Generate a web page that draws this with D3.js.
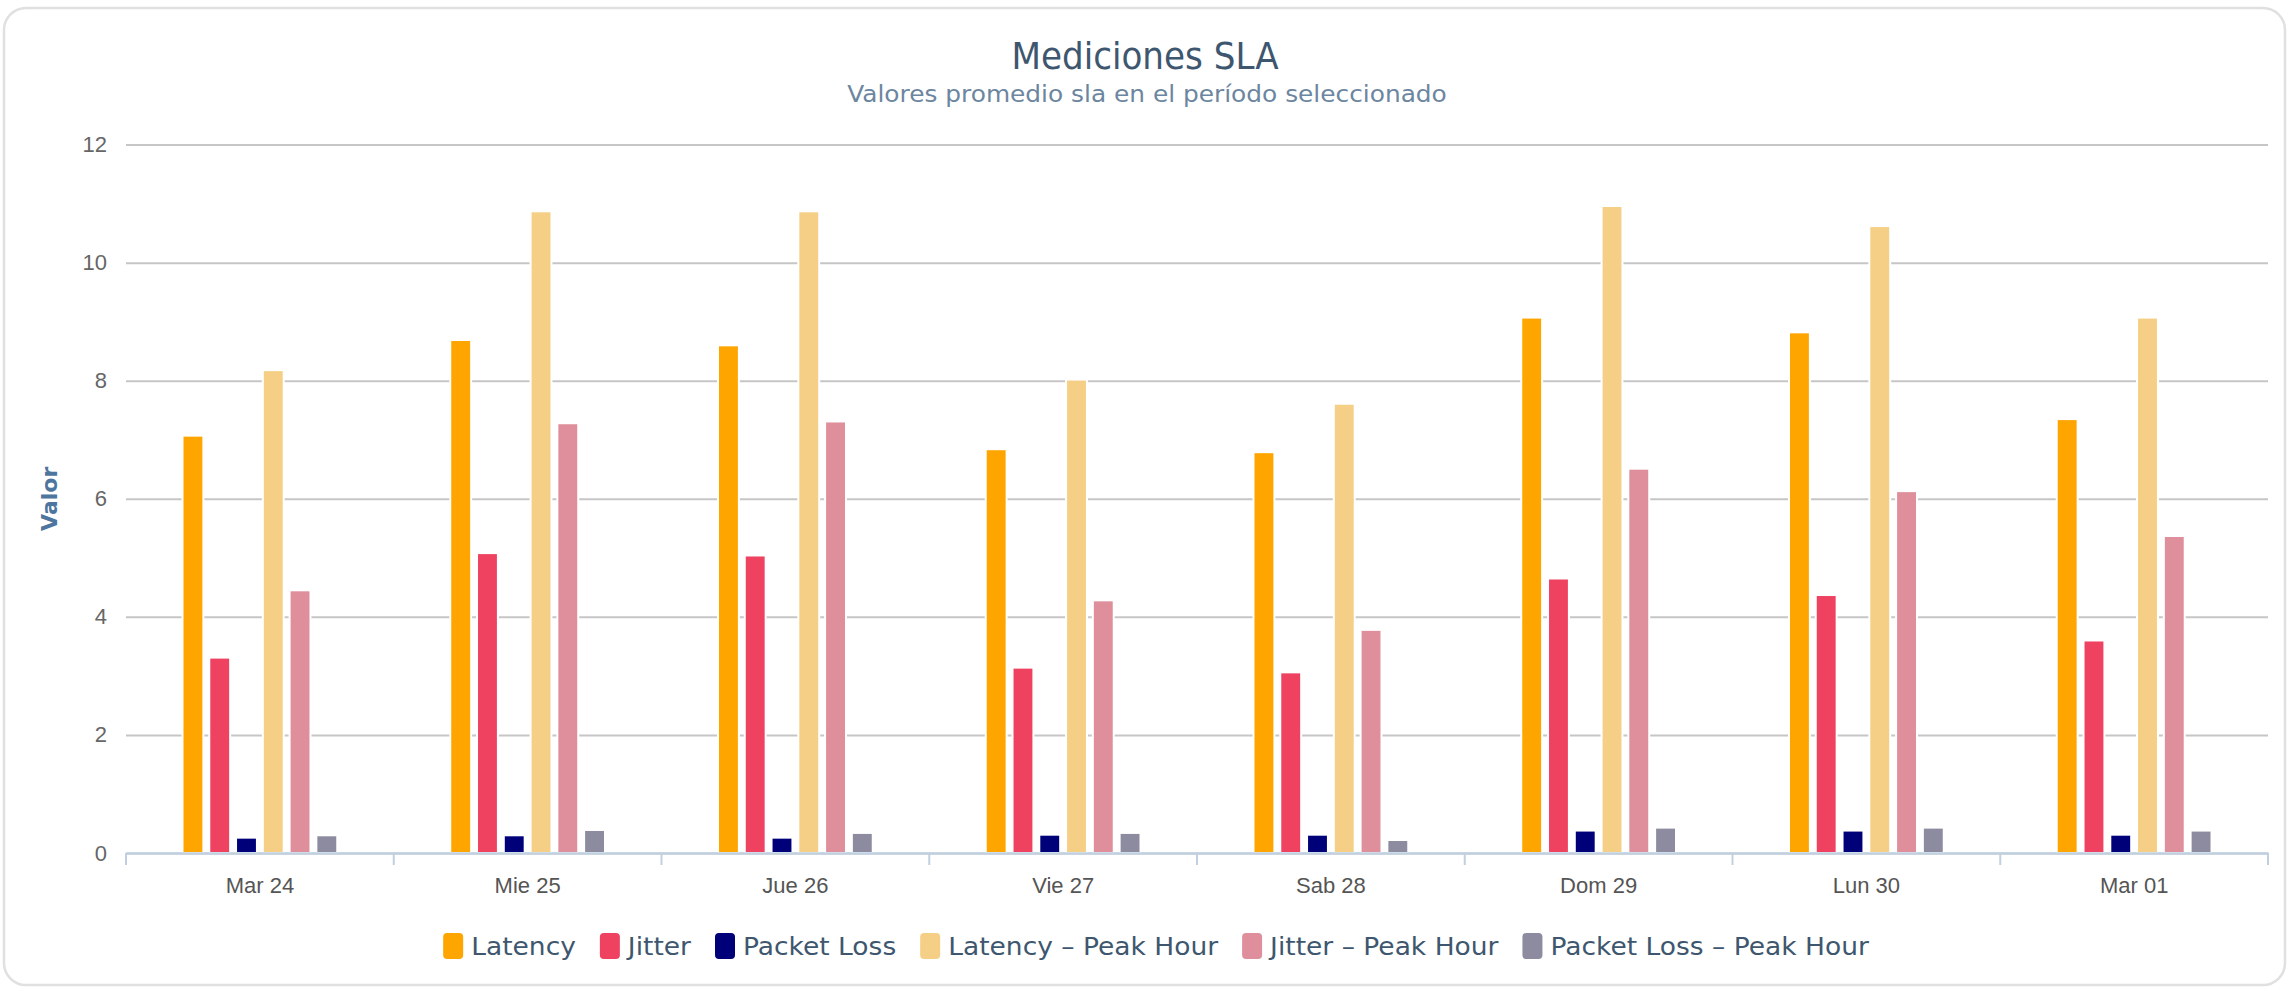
<!DOCTYPE html>
<html>
<head>
<meta charset="utf-8">
<script src="https://cdn.jsdelivr.net/npm/d3@7"></script>
<style>
    html, body { margin: 0; padding: 0; background: #fff; }
    svg { display: block; font-family: "DejaVu Sans", Verdana, sans-serif; }
</style>
</head>
<body>
<div id="chart"></div>
<script>
// data
const categories = ['Mar 24', 'Mie 25', 'Jue 26', 'Vie 27', 'Sab 28', 'Dom 29', 'Lun 30', 'Mar 01'];
const seriesNames = ['Latency', 'Jitter', 'Packet Loss', 'Latency - Peak Hour', 'Jitter - Peak Hour', 'Packet Loss - Peak Hour'];
const seriesColors = ['#ffa500', '#ee4260', '#000078', '#f5cf86', '#de8f9b', '#8c8ba0'];

const latency        = [7.07, 8.69, 8.60, 6.84, 6.79, 9.07, 8.82, 7.35];
const jitter         = [3.31, 5.08, 5.04, 3.14, 3.06, 4.65, 4.37, 3.60];
const packetLoss     = [0.26, 0.30, 0.26, 0.31, 0.31, 0.38, 0.38, 0.31];
const latencyPeak    = [8.18, 10.87, 10.87, 8.02, 7.61, 10.96, 10.62, 9.07];
const jitterPeak     = [4.45, 7.28, 7.31, 4.28, 3.78, 6.51, 6.13, 5.37];
const packetLossPeak = [0.30, 0.39, 0.34, 0.34, 0.22, 0.43, 0.43, 0.38];

const yTicks = [0, 2, 4, 6, 8, 10, 12];

const seriesValues = [latency, jitter, packetLoss, latencyPeak, jitterPeak, packetLossPeak];

const W = 2290, H = 990;
const margin = { top: 144.6, right: 22, bottom: 137, left: 126 };

const svg = d3.select('#chart').append('svg')
    .attr('width', W)
    .attr('height', H);

// card background
svg.append('rect')
    .attr('x', 4).attr('y', 8)
    .attr('width', W - 9).attr('height', H - 13)
    .attr('rx', 22)
    .attr('fill', '#fff')
    .attr('stroke', '#e0e0e0')
    .attr('stroke-width', 2.5);

const x0 = d3.scaleBand()
    .domain(categories)
    .range([margin.left, W - margin.right]);

const bw = x0.bandwidth();
const x1 = d3.scaleBand()
    .domain(seriesNames)
    .range([bw * 0.2, bw * 0.8])
    .paddingInner(0.22)
    .paddingOuter(0.11);

const y = d3.scaleLinear()
    .domain([0, 12])
    .range([H - margin.bottom, margin.top]);

// horizontally squeezed text helper
function place(sel, x, yy, sx) {
    return sel.attr('transform', `translate(${x},${yy}) scale(${sx},1)`);
}

// grid + y labels
const yAxis = svg.append('g')
    .attr('transform', `translate(${margin.left},0)`)
    .call(d3.axisLeft(y)
        .tickValues(yTicks)
        .tickSize(-(W - margin.left - margin.right))
        .tickPadding(19)
        .tickFormat(d3.format('d')));
yAxis.select('.domain').remove();
yAxis.selectAll('.tick line')
    .attr('stroke', '#c6c6c6')
    .attr('stroke-width', 2);
yAxis.selectAll('.tick text')
    .attr('fill', '#666')
    .style('font-size', '22px');

// bars
const groups = svg.append('g')
    .selectAll('g')
    .data(categories)
    .join('g')
    .attr('transform', d => `translate(${x0(d)},0)`);

groups.selectAll('rect')
    .data((d, i) => seriesNames.map((s, k) => ({ s, k, v: seriesValues[k][i] })))
    .join('rect')
    .attr('x', d => x1(d.s))
    .attr('y', d => y(d.v))
    .attr('width', x1.bandwidth())
    .attr('height', d => y(0) - y(d.v))
    .attr('fill', d => seriesColors[d.k])
    .attr('stroke', '#fff')
    .attr('stroke-width', 2);

// x axis
const xAxis = svg.append('g')
    .attr('transform', `translate(0,${y(0)})`)
    .call(d3.axisBottom(x0).tickSize(0).tickPadding(24));
xAxis.select('.domain')
    .attr('stroke', '#c0d0e0')
    .attr('stroke-width', 2.5);
xAxis.selectAll('.tick text')
    .attr('fill', '#555')
    .style('font-size', '22px');

// category boundary ticks
xAxis.append('g')
    .selectAll('line')
    .data(categories.concat(['__end']))
    .join('line')
    .attr('x1', d => d === '__end' ? x0.range()[1] : x0(d))
    .attr('x2', d => d === '__end' ? x0.range()[1] : x0(d))
    .attr('y1', 0)
    .attr('y2', 12)
    .attr('stroke', '#c0d0e0')
    .attr('stroke-width', 2);

// titles
place(svg.append('text'), W / 2, 69, 0.9)
    .attr('text-anchor', 'middle')
    .attr('fill', '#3e576f')
    .style('font-size', '38px')
    .text('Mediciones SLA');

place(svg.append('text'), W / 2 + 2, 102, 1.08)
    .attr('text-anchor', 'middle')
    .attr('fill', '#6d869f')
    .style('font-size', '23px')
    .text('Valores promedio sla en el período seleccionado');

// y axis title
svg.append('text')
    .attr('transform', `translate(57,${(y(0) + y(12)) / 2}) rotate(-90)`)
    .attr('text-anchor', 'middle')
    .attr('fill', '#4d759e')
    .style('font-size', '22px')
    .style('font-weight', 'bold')
    .text('Valor');

// legend
const legend = svg.append('g');
const symW = 20, symH = 26, gapText = 8, gapItem = 24, legSx = 1.06;
let lx = 0;
seriesNames.forEach((name, k) => {
    const item = legend.append('g').attr('transform', `translate(${lx},0)`);
    item.append('rect')
        .attr('x', 0).attr('y', -symH / 2)
        .attr('width', symW).attr('height', symH)
        .attr('rx', 4)
        .attr('fill', seriesColors[k]);
    const t = place(item.append('text'), symW + gapText, 9, legSx)
        .attr('fill', '#3e576f')
        .style('font-size', '25px')
        .text(name.replace(' - ', ' – '));
    const tw = t.node().getComputedTextLength() * legSx;
    lx += symW + gapText + tw + gapItem;
});
const legendWidth = lx - gapItem;
legend.attr('transform', `translate(${W / 2 + 11 - legendWidth / 2},946)`);
</script>
</body>
</html>
